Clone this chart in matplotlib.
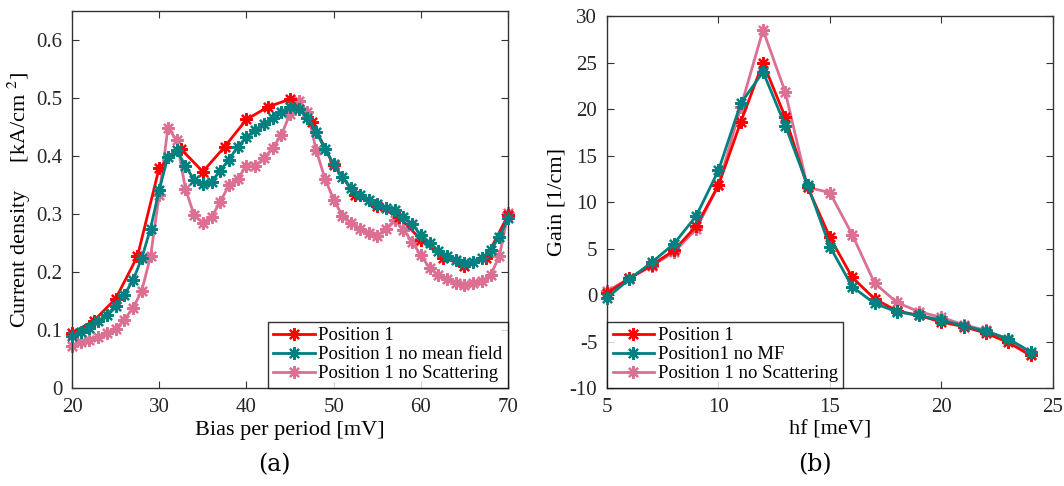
import numpy as np
import matplotlib
matplotlib.use("Agg")
import matplotlib.pyplot as plt

plt.rcParams['font.family'] = ['Liberation Serif', 'DejaVu Serif']
plt.rcParams['mathtext.fontset'] = 'stix'
plt.rcParams['axes.unicode_minus'] = False

# ---- panel (a): current density vs bias ----
bias_red = np.arange(20, 70.1, 2.5)
j_pos1 = [0.095, 0.116, 0.154, 0.227, 0.380, 0.412, 0.373, 0.416, 0.463, 0.485,
          0.498, 0.459, 0.384, 0.333, 0.313, 0.295, 0.256, 0.225, 0.211, 0.225, 0.298]

bias_fine = np.arange(20, 71, 1)
j_nomf = [0.089, 0.096, 0.103, 0.115, 0.126, 0.142, 0.161, 0.186, 0.224, 0.275,
          0.342, 0.399, 0.410, 0.383, 0.359, 0.351, 0.356, 0.375, 0.394, 0.416,
          0.432, 0.445, 0.456, 0.466, 0.476, 0.484, 0.481, 0.466, 0.442, 0.412,
          0.386, 0.364, 0.345, 0.332, 0.324, 0.317, 0.311, 0.307, 0.295, 0.282,
          0.264, 0.250, 0.237, 0.227, 0.220, 0.215, 0.218, 0.224, 0.238, 0.260, 0.293]
j_noscat = [0.073, 0.080, 0.083, 0.088, 0.095, 0.102, 0.118, 0.138, 0.168, 0.227,
            0.333, 0.449, 0.427, 0.344, 0.298, 0.285, 0.295, 0.321, 0.350, 0.361,
            0.383, 0.383, 0.396, 0.414, 0.436, 0.473, 0.495, 0.476, 0.410, 0.361,
            0.325, 0.297, 0.285, 0.275, 0.267, 0.262, 0.275, 0.289, 0.273, 0.252,
            0.229, 0.207, 0.195, 0.188, 0.181, 0.177, 0.181, 0.184, 0.195, 0.227, 0.301]

# ---- panel (b): gain vs photon energy ----
hf = np.arange(5, 25, 1)
g_pos1 = [0.2, 1.8, 3.2, 4.8, 7.4, 11.8, 18.6, 25.0, 19.1, 11.6,
          6.2, 1.9, -0.4, -1.7, -2.2, -2.9, -3.4, -4.1, -5.1, -6.5]
g_nomf = [-0.3, 1.7, 3.5, 5.5, 8.5, 13.4, 20.6, 24.0, 18.2, 11.8,
          5.2, 0.9, -0.9, -1.8, -2.2, -2.7, -3.3, -3.9, -4.7, -6.1]
g_noscat = [0.4, 1.8, 3.1, 4.6, 7.1, 11.8, 20.2, 28.5, 21.8, 11.6,
            11.0, 6.5, 1.3, -0.8, -1.8, -2.4, -3.2, -3.8, -4.8, -6.3]

c_red = '#ff0000'
c_teal = '#008080'
c_pink = '#db7093'
mk = (8, 2, 0)
fs = 15

fig = plt.figure(figsize=(10.64, 4.86), dpi=100)
ax1 = fig.add_axes([0.0677, 0.2016, 0.4098, 0.7757])
ax2 = fig.add_axes([0.5705, 0.2016, 0.4190, 0.7654])

kw = dict(lw=2, marker=mk, ms=9, mew=1.6, clip_on=False)
ax1.plot(bias_red, j_pos1, color=c_red, label='Position 1', zorder=3, **kw)
ax1.plot(bias_fine, j_nomf, color=c_teal, label='Position 1 no mean field', zorder=4, **kw)
ax1.plot(bias_fine, j_noscat, color=c_pink, label='Position 1 no Scattering', zorder=2, **kw)
ax1.set_xlim(20, 70)
ax1.set_ylim(0, 0.65)
ax1.set_xticks([20, 30, 40, 50, 60, 70])
ax1.set_yticks([0, 0.1, 0.2, 0.3, 0.4, 0.5, 0.6])
ax1.set_yticklabels(['0', '0.1', '0.2', '0.3', '0.4', '0.5', '0.6'])
ax1.set_xlabel('Bias per period [mV]', fontsize=fs + 1, labelpad=3)
ax1.set_ylabel('Current density     [kA/cm $^{2}$]', fontsize=fs + 1, labelpad=2)
leg1 = ax1.legend(loc='lower right', fontsize=fs - 1.5, frameon=True, fancybox=False,
                  edgecolor='black', borderpad=0.3, handlelength=2.2, handletextpad=0.2,
                  labelspacing=0.1, borderaxespad=0)
leg1.get_frame().set_linewidth(1.0)

ax2.plot(hf, g_pos1, color=c_red, label='Position 1', zorder=3, **kw)
ax2.plot(hf, g_nomf, color=c_teal, label='Position1 no MF', zorder=4, **kw)
ax2.plot(hf, g_noscat, color=c_pink, label='Position 1 no Scattering', zorder=2, **kw)
ax2.set_xlim(5, 25)
ax2.set_ylim(-10, 30)
ax2.set_xticks([5, 10, 15, 20, 25])
ax2.set_yticks(range(-10, 31, 5))
ax2.set_xlabel('hf [meV]', fontsize=fs + 1, labelpad=3)
ax2.set_ylabel('Gain [1/cm]', fontsize=fs + 1, labelpad=2)
leg2 = ax2.legend(loc='lower left', fontsize=fs - 1.5, frameon=True, fancybox=False,
                  edgecolor='black', borderpad=0.3, handlelength=2.2, handletextpad=0.2,
                  labelspacing=0.1, borderaxespad=0)
leg2.get_frame().set_linewidth(1.0)

for ax in (ax1, ax2):
    ax.tick_params(direction='in', top=True, right=True, labelsize=fs, length=5,
                   pad=7, color='#333333', labelcolor='#262626')
    for s in ax.spines.values():
        s.set_color('#333333')
        s.set_linewidth(1.0)

fig.text(0.258, 0.043, '(a)', ha='center', va='center', fontsize=17,
         family=['DejaVu Serif'])
fig.text(0.766, 0.043, '(b)', ha='center', va='center', fontsize=17,
         family=['DejaVu Serif'])

fig.savefig('out.png', dpi=100)
